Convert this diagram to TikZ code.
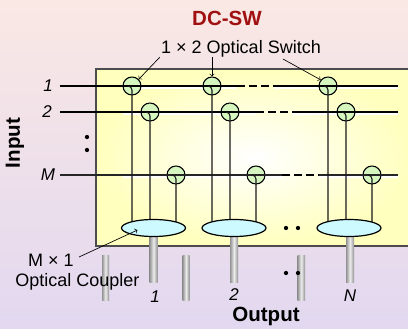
\documentclass[tikz,border=0pt]{standalone}
\usepackage{fontspec}
\setmainfont{Liberation Sans}
\usetikzlibrary{calc,positioning,shapes,arrows}

\definecolor{bgtop}{RGB}{250,232,228}
\definecolor{bgbot}{RGB}{226,216,240}
\definecolor{boxyel}{RGB}{255,255,190}
\definecolor{swgreen}{RGB}{214,246,192}
\definecolor{cplcyan}{RGB}{204,250,255}
\definecolor{dcred}{RGB}{160,16,16}

\tikzset{
  switch/.style={circle,draw=black,fill=swgreen,line width=0.8pt,minimum size=13.5pt,inner sep=0pt},
  coupler/.style={ellipse,draw=black,fill=cplcyan,line width=0.9pt,minimum width=48pt,minimum height=12.75pt,inner sep=0pt},
  bus/.style={line width=1.7pt},
  busthin/.style={line width=1pt,black!85},
  shine/.style={white,line width=1.5pt},
  fiber/.style={line width=0.8pt,black!90},
  outfiber/.style={left color=gray!85,right color=gray!85,middle color=gray!15},
  txt/.style={font=\fontsize{13.5}{15}\selectfont,inner sep=0pt},
  num/.style={font=\fontsize{12.75}{14}\selectfont\itshape,inner sep=0pt},
  boldlbl/.style={font=\fontsize{15.4}{17}\selectfont\bfseries,inner sep=0pt}
}

\begin{document}
\begin{tikzpicture}[x=0.75pt,y=-0.75pt]

\useasboundingbox (0,0) rectangle (408,329);
\shade [top color=bgtop,bottom color=bgbot] (0,0) rectangle (408,329);

% gehaeuse des schalters
\shade [inner color=white,outer color=boxyel] (96,69) rectangle (412,246);
\draw [black!70,line width=0.8pt] (96,69) rectangle (412,246);

\coordinate (in1) at (60,86);  \coordinate (out1) at (398,86);
\coordinate (in2) at (60,112); \coordinate (out2) at (398,112);
\coordinate (inM) at (60,175); \coordinate (outM) at (398,175);
\coordinate (d1a) at (237,86);  \coordinate (d1b) at (274,86);
\coordinate (d2a) at (256,112); \coordinate (d2b) at (292,112);
\coordinate (dMa) at (282,175); \coordinate (dMb) at (319,175);
\coordinate (c1) at (153.5,228);
\coordinate (c2) at (234,228);
\coordinate (cN) at (349,228);

\draw [shine] (123,88) -- (237,88) (274,88) -- (398,88);
\draw [shine] (123,114) -- (256,114) (292,114) -- (398,114);
\draw [shine] (123,177) -- (282,177) (319,177) -- (398,177);

\node [switch] (s11) at (132,86) {};
\node [switch] (s12) at (212,86) {};
\node [switch] (s13) at (328,86) {};
\node [switch] (s21) at (150,112) {};
\node [switch] (s22) at (230,112) {};
\node [switch] (s23) at (346,112) {};
\node [switch] (sM1) at (176,175) {};
\node [switch] (sM2) at (256,175) {};
\node [switch] (sM3) at (372,175) {};

\draw [bus] (in1) -- (d1a) (d1b) -- (out1);
\draw [bus,dash pattern=on 6pt off 3pt] (d1a) -- (d1b);
\draw [bus] (in2) -- (d2a) (d2b) -- (out2);
\draw [bus,dash pattern=on 6pt off 3pt] (d2a) -- (d2b);
\draw [busthin] (inM) -- (dMa) (dMb) -- (outM);
\draw [line width=1.5pt,dash pattern=on 6pt off 3pt] (dMa) -- (dMb);

\draw [fiber] (s11.center) ++(-4,0) to[out=0,in=90] ++(4,4) -- (s11 |- c1);
\draw [fiber] (s21.center) ++(-4,0) to[out=0,in=90] ++(4,4) -- (s21 |- c1);
\draw [fiber] (sM1.center) ++(-4,0) to[out=0,in=90] ++(4,4) -- (sM1 |- c1);
\draw [fiber] (s12.center) ++(-4,0) to[out=0,in=90] ++(4,4) -- (s12 |- c2);
\draw [fiber] (s22.center) ++(-4,0) to[out=0,in=90] ++(4,4) -- (s22 |- c2);
\draw [fiber] (sM2.center) ++(-4,0) to[out=0,in=90] ++(4,4) -- (sM2 |- c2);
\draw [fiber] (s13.center) ++(-4,0) to[out=0,in=90] ++(4,4) -- (s13 |- cN);
\draw [fiber] (s23.center) ++(-4,0) to[out=0,in=90] ++(4,4) -- (s23 |- cN);
\draw [fiber] (sM3.center) ++(-4,0) to[out=0,in=90] ++(4,4) -- (sM3 |- cN);

% ausgangsfasern
\shade [outfiber] (149.5,232) rectangle (157.5,282);
\shade [outfiber] (230,232) rectangle (238,282);
\shade [outfiber] (346,232) rectangle (354,282);
\shade [outfiber] (102,255) rectangle (109,300);
\shade [outfiber] (182.5,255) rectangle (189.5,300);
\shade [outfiber] (297.5,255) rectangle (305,300);

\node [coupler] (cpl1) at (c1) {};
\node [coupler] (cpl2) at (c2) {};
\node [coupler] (cplN) at (cN) {};

\fill (87,137) circle [radius=1.6pt] (87,150) circle [radius=1.6pt];
\fill (286,228) circle [radius=1.6pt] (298,228) circle [radius=1.6pt];
\fill (286,273) circle [radius=1.6pt] (298,273) circle [radius=1.6pt];

\node [boldlbl,text=dcred] (title) at (227,18) {DC-SW};
\node [txt] (swlbl) at (241,49) {1 × 2 Optical Switch};
\coordinate (a1) at (160,57);
\coordinate (a2) at (212,57);
\coordinate (a3) at (283,59);
\draw [->,line width=0.5pt] (a1) -- (s11.45);
\draw [->,line width=0.5pt] (a2) -- (s12.north);
\draw [->,line width=0.5pt] (a3) -- (s13.140);

\node [num] (n1) at (48,86) {1};
\node [num] (n2) at (47,112) {2};
\node [num] (nM) at (48,175) {M};
\node [boldlbl,rotate=90] (inlbl) at (15,143) {Input};

\node [txt] (cpllbl) at (51,260) {M × 1};
\node [txt] (cpllbl2) at (77.5,282) {Optical Coupler};
\coordinate (a4) at (79,257);
\draw [->,line width=0.5pt] (a4) -- ($(cpl1.center)+(-16,2)$);

\node [num] (o1) at (155,297) {1};
\node [num] (o2) at (234,295) {2};
\node [num] (oN) at (350,296) {N};
\node [boldlbl] (outlbl) at (266,316) {Output};

\end{tikzpicture}
\end{document}
